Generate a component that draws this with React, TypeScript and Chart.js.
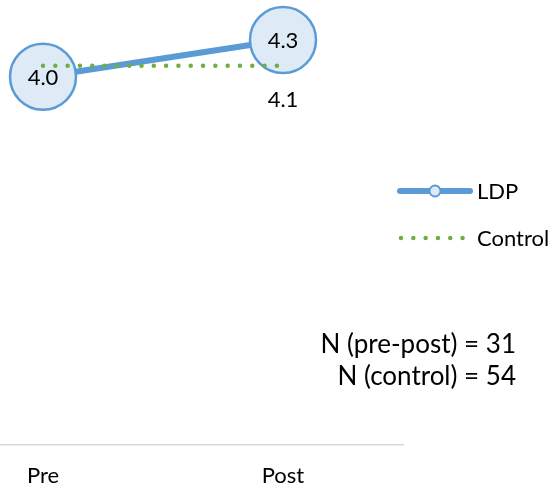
import React, { useEffect, useRef } from "react";
import { Chart, registerables } from "chart.js";

Chart.register(...registerables);

const categories = ["Pre", "Post"];
const ldpValues = [4.0, 4.3];
const controlValues = [4.09, 4.09];
const seriesNames = ["LDP", "Control"];
const nLines = ["N (pre-post) = 31", "N (control) = 54"];
const yMin = 1;
const yMax = 5;

const FONT = "Lato, 'Open Sans', sans-serif";
const BLUE = "#5B9BD5";
const BLUE_FILL = "#DEEBF7";
const GREEN = "#70AD47";
const DOT_DASH = [0.01, 12.3];

// canvas is shifted so the plot area (cropped in the original) extends off-page
const OX = 77;
const OY = 46;
const CW = 628;
const CH = 540;

export default function App() {
  const ref = useRef<HTMLCanvasElement | null>(null);

  useEffect(() => {
    document.body.style.margin = "0";
    const canvas = ref.current;
    if (!canvas) return;

    const labelPlugin = {
      id: "labels",
      afterDatasetsDraw(chart: any) {
        const ctx = chart.ctx;
        ctx.save();
        ctx.fillStyle = "#000";
        ctx.font = `22px ${FONT}`;
        ctx.textAlign = "center";
        ctx.textBaseline = "middle";
        const m0 = chart.getDatasetMeta(0);
        m0.data.forEach((pt: any, i: number) => {
          ctx.fillText(ldpValues[i].toFixed(1), pt.x, pt.y + 1);
        });
        const m1 = chart.getDatasetMeta(1);
        const last = m1.data.length - 1;
        const p = m1.data[last];
        ctx.fillText(controlValues[last].toFixed(1), p.x, p.y + 34);
        ctx.restore();
      },
      afterDraw(chart: any) {
        const ctx = chart.ctx;
        ctx.save();
        // legend: LDP
        const ly1 = 191 + OY;
        ctx.strokeStyle = BLUE;
        ctx.lineWidth = 6;
        ctx.lineCap = "round";
        ctx.beginPath();
        ctx.moveTo(400 + OX, ly1);
        ctx.lineTo(470 + OX, ly1);
        ctx.stroke();
        ctx.beginPath();
        ctx.arc(435 + OX, ly1, 5.5, 0, Math.PI * 2);
        ctx.fillStyle = BLUE_FILL;
        ctx.fill();
        ctx.lineWidth = 2;
        ctx.stroke();
        // legend: Control
        const ly2 = 238 + OY;
        ctx.strokeStyle = GREEN;
        ctx.lineWidth = 4.5;
        ctx.setLineDash(DOT_DASH);
        ctx.beginPath();
        ctx.moveTo(401 + OX, ly2);
        ctx.lineTo(464 + OX, ly2);
        ctx.stroke();
        ctx.setLineDash([]);
        ctx.fillStyle = "#000";
        ctx.font = `22px ${FONT}`;
        ctx.textAlign = "left";
        ctx.textBaseline = "middle";
        ctx.fillText(seriesNames[0], 477 + OX, ly1 + 1);
        ctx.fillText(seriesNames[1], 477 + OX, ly2 + 1);
        // N notes
        ctx.font = `26px ${FONT}`;
        ctx.textAlign = "right";
        ctx.textBaseline = "alphabetic";
        ctx.fillText(nLines[0], 516 + OX, 353 + OY);
        ctx.fillText(nLines[1], 516 + OX, 385 + OY);
        ctx.restore();
      },
    };

    const chart = new Chart(canvas, {
      type: "line",
      data: {
        labels: categories,
        datasets: [
          {
            label: seriesNames[0],
            data: ldpValues,
            borderColor: BLUE,
            borderWidth: 6,
            pointRadius: 33,
            pointHoverRadius: 33,
            pointBackgroundColor: BLUE_FILL,
            pointBorderColor: BLUE,
            pointBorderWidth: 2.5,
            order: 1,
            clip: false as any,
          },
          {
            label: seriesNames[1],
            data: controlValues,
            borderColor: GREEN,
            borderWidth: 4.5,
            borderDash: DOT_DASH,
            borderCapStyle: "round",
            pointRadius: 0,
            pointHoverRadius: 0,
            order: 0,
            clip: false as any,
          },
        ],
      },
      options: {
        responsive: false,
        animation: false,
        devicePixelRatio: 1,
        layout: { autoPadding: false, padding: { left: 0, top: 0, right: CW - OX - 403, bottom: 0 } },
        plugins: {
          legend: { display: false },
          tooltip: { enabled: false },
          title: { display: false },
        },
        events: [],
        scales: {
          x: {
            type: "category",
            offset: true,
            afterFit(scale: any) {
              scale.height = 49;
            },
            grid: { display: true, color: "rgba(0,0,0,0)", drawOnChartArea: false, drawTicks: false },
            border: { display: true, color: "#D9D9D9", width: 1.5 },
            ticks: { color: "#000", padding: 18, font: { family: FONT, size: 22 } },
          },
          y: {
            display: false,
            min: yMin,
            max: yMax,
          },
        },
      },
      plugins: [labelPlugin],
    });
    return () => chart.destroy();
  }, []);

  return (
    <div style={{ position: "relative", width: 551, height: 489, overflow: "hidden", background: "#fff" }}>
      <canvas
        ref={ref}
        width={CW}
        height={CH}
        style={{ position: "absolute", left: -OX, top: -OY, width: CW, height: CH }}
      />
    </div>
  );
}
